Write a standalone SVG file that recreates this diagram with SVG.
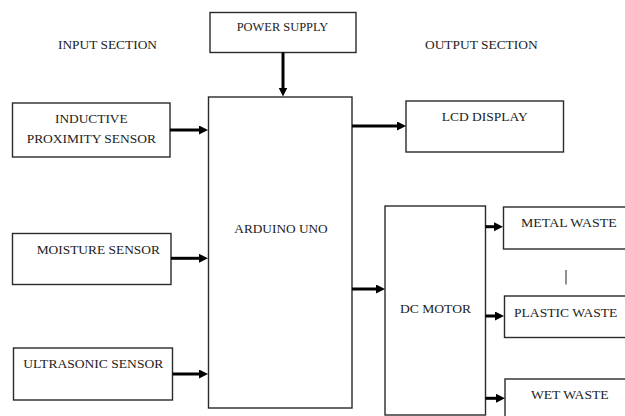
<svg xmlns="http://www.w3.org/2000/svg" width="625" height="416" viewBox="0 0 625 416">
<style>
.box{fill:#fff;stroke:#2a2a2a;stroke-width:1.4}
.t{font-family:"Liberation Serif","Times New Roman",serif;font-size:13.2px;fill:#222;text-anchor:middle}
.c{stroke:#000;stroke-width:3;fill:none;marker-end:url(#ah)}
</style>
<defs>
<marker id="ah" markerUnits="userSpaceOnUse" markerWidth="10" markerHeight="10" refX="3" refY="4.5" orient="auto">
<path d="M0,0 L9,4.5 L0,9 z" fill="#000"/>
</marker>
</defs>
<rect width="625" height="416" fill="#fff"/>
<text class="t" x="107.5" y="49" textLength="99" lengthAdjust="spacingAndGlyphs">INPUT SECTION</text>
<text class="t" x="481.3" y="49" textLength="112.7" lengthAdjust="spacingAndGlyphs">OUTPUT SECTION</text>
<g id="power-supply">
<rect class="box" x="210" y="12.5" width="146" height="40"/>
<text class="t" x="282.5" y="31" textLength="91.6" lengthAdjust="spacingAndGlyphs">POWER SUPPLY</text>
</g>
<g id="arduino">
<rect class="box" x="208.5" y="97" width="143.5" height="311"/>
<text class="t" x="281" y="232.7" textLength="93.4" lengthAdjust="spacingAndGlyphs">ARDUINO UNO</text>
</g>
<g id="inductive">
<rect class="box" x="12.5" y="103" width="157.5" height="54"/>
<text class="t" x="91.3" y="123.3" textLength="72.7" lengthAdjust="spacingAndGlyphs">INDUCTIVE</text>
<text class="t" x="91.3" y="142.7" textLength="129.3" lengthAdjust="spacingAndGlyphs">PROXIMITY SENSOR</text>
</g>
<g id="moisture">
<rect class="box" x="12.5" y="233.5" width="158.5" height="51"/>
<text class="t" x="98.3" y="254" textLength="123.3" lengthAdjust="spacingAndGlyphs">MOISTURE SENSOR</text>
</g>
<g id="ultrasonic">
<rect class="box" x="13.5" y="348" width="159" height="52"/>
<text class="t" x="93.3" y="367.7" textLength="140" lengthAdjust="spacingAndGlyphs">ULTRASONIC SENSOR</text>
</g>
<g id="lcd">
<rect class="box" x="406" y="101" width="157.5" height="51"/>
<text class="t" x="484.7" y="121" textLength="86" lengthAdjust="spacingAndGlyphs">LCD DISPLAY</text>
</g>
<g id="dc-motor">
<rect class="box" x="385" y="206" width="100.5" height="209"/>
<text class="t" x="435.5" y="312.7" textLength="71" lengthAdjust="spacingAndGlyphs">DC MOTOR</text>
</g>
<g id="metal">
<rect class="box" x="503.5" y="207" width="130" height="42"/>
<text class="t" x="568.8" y="227.3" textLength="95.7" lengthAdjust="spacingAndGlyphs">METAL WASTE</text>
</g>
<g id="plastic">
<rect class="box" x="504.5" y="296" width="130" height="41.5"/>
<text class="t" x="565.7" y="316.7" textLength="103.3" lengthAdjust="spacingAndGlyphs">PLASTIC WASTE</text>
</g>
<g id="wet">
<rect class="box" x="505" y="379" width="130" height="50"/>
<text class="t" x="569.8" y="399.3" textLength="77.7" lengthAdjust="spacingAndGlyphs">WET WASTE</text>
</g>
<line x1="566" y1="270" x2="566" y2="284.5" stroke="#222" stroke-width="1"/>
<g id="connectors">
<line class="c" x1="283" y1="52.5" x2="283" y2="90.5"/>
<line class="c" x1="170" y1="130" x2="202" y2="130"/>
<line class="c" x1="171" y1="258.3" x2="202" y2="258.3"/>
<line class="c" x1="172.5" y1="374" x2="202" y2="374"/>
<line class="c" x1="352" y1="126" x2="400" y2="126"/>
<line class="c" x1="352" y1="289" x2="379" y2="289"/>
<line class="c" x1="485.5" y1="226.7" x2="497" y2="226.7"/>
<line class="c" x1="485.5" y1="316" x2="498" y2="316"/>
<line class="c" x1="485.5" y1="398.3" x2="499" y2="398.3"/>
</g>
</svg>
